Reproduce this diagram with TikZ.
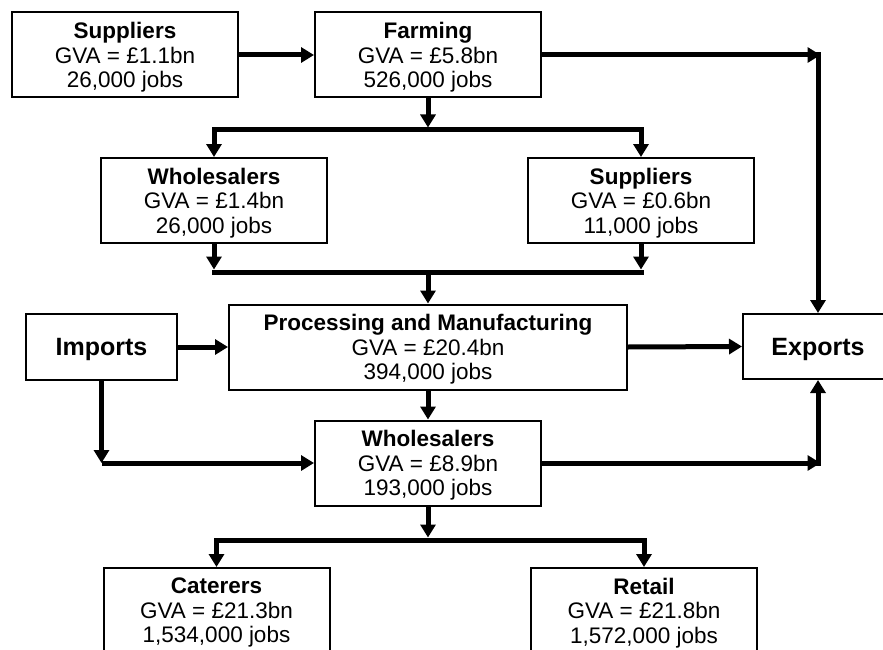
\documentclass[tikz,border=0pt]{standalone}
\usepackage{fontspec}
\setmainfont{Liberation Sans}
\usetikzlibrary{arrows.meta}
\begin{document}
\begin{tikzpicture}[x=1pt,y=-1pt,
 box/.style={draw, line width=2pt, minimum width=226pt, minimum height=85pt, inner sep=0pt, align=center, font=\fontsize{22.5}{24.5}\selectfont, text depth=0pt},
 bigbox/.style={draw, line width=2pt, inner sep=0pt, font=\fontsize{25}{28}\selectfont\bfseries, text depth=0pt},
 arr/.style={line width=5pt, -{Triangle[length=13pt,width=15pt]}},
 ln/.style={line width=5pt, line cap=rect}]
\useasboundingbox (0,0) rectangle (883,650);
\fill[white] (0,0) rectangle (883,650);

\node[box] (s1) at (125,55) {\textbf{Suppliers}\\GVA = £1.1bn\\26,000 jobs};
\node[box] (farm) at (428,55) {\textbf{Farming}\\GVA = £5.8bn\\526,000 jobs};
\node[box] (w1) at (214,200.5) {\textbf{Wholesalers}\\GVA = £1.4bn\\26,000 jobs};
\node[box] (s2) at (641,200.5) {\textbf{Suppliers}\\GVA = £0.6bn\\11,000 jobs};
\node[box, minimum width=398pt] (proc) at (428,347) {\textbf{Processing and Manufacturing}\\GVA = £20.4bn\\394,000 jobs};
\node[bigbox, minimum width=151pt, minimum height=66pt] (imp) at (101.5,347) {Imports};
\node[bigbox, minimum width=150pt, minimum height=65pt] (exp) at (818,346.5) {Exports};
\node[box] (w2) at (428,463) {\textbf{Wholesalers}\\GVA = £8.9bn\\193,000 jobs};
\node[box] (cat) at (216.5,610.5) {\textbf{Caterers}\\GVA = £21.3bn\\1,534,000 jobs};
\node[box] (ret) at (644,610.5) {\textbf{Retail}\\GVA = £21.8bn\\1,572,000 jobs};

% top row
\draw[arr] (s1.east) -- (farm.west);
\coordinate (cFE) at (exp.north |- farm.east);
\draw[arr] (farm.east) -- ([xshift=2.5pt]cFE);
\draw[arr] ([yshift=2.5pt]cFE) -- (exp.north);

% farming split
\path (farm.south |- 0,130) coordinate (j1M)
      (w1.north |- 0,130) coordinate (j1L)
      (s2.north |- 0,130) coordinate (j1R);
\draw[arr] (farm.south) -- ([yshift=2.5pt]j1M);
\draw[ln] (j1L) -- (j1R);
\draw[arr] (j1L) -- (w1.north);
\draw[arr] (j1R) -- (s2.north);

% merge into processing
\path (w1.south |- 0,272) coordinate (j2L)
      (s2.south |- 0,272) coordinate (j2R)
      (proc.north |- 0,272) coordinate (j2M);
\draw[arr] (w1.south) -- ([yshift=2.5pt]j2L);
\draw[arr] (s2.south) -- ([yshift=2.5pt]j2R);
\draw[ln] (j2L) -- (j2R);
\draw[arr] (j2M) -- (proc.north);

% middle row
\draw[arr] (imp.east) -- (proc.west);
\draw[arr] (proc.east) -- (exp.west);
\draw[arr] (proc.south) -- (w2.north);

\coordinate (cI) at (imp.south |- w2.west);
\draw[arr] (imp.south) -- (cI);
\draw[arr] (cI) -- (w2.west);

\coordinate (cX) at (exp.south |- w2.east);
\draw[arr] (w2.east) -- ([xshift=2.5pt]cX);
\draw[arr] ([yshift=-2.5pt]cX) -- (exp.south);

% bottom split
\path (w2.south |- 0,540) coordinate (j3M)
      (cat.north |- 0,540) coordinate (j3L)
      (ret.north |- 0,540) coordinate (j3R);
\draw[arr] (w2.south) -- ([yshift=2.5pt]j3M);
\draw[ln] (j3L) -- (j3R);
\draw[arr] (j3L) -- (cat.north);
\draw[arr] (j3R) -- (ret.north);
\end{tikzpicture}
\end{document}
